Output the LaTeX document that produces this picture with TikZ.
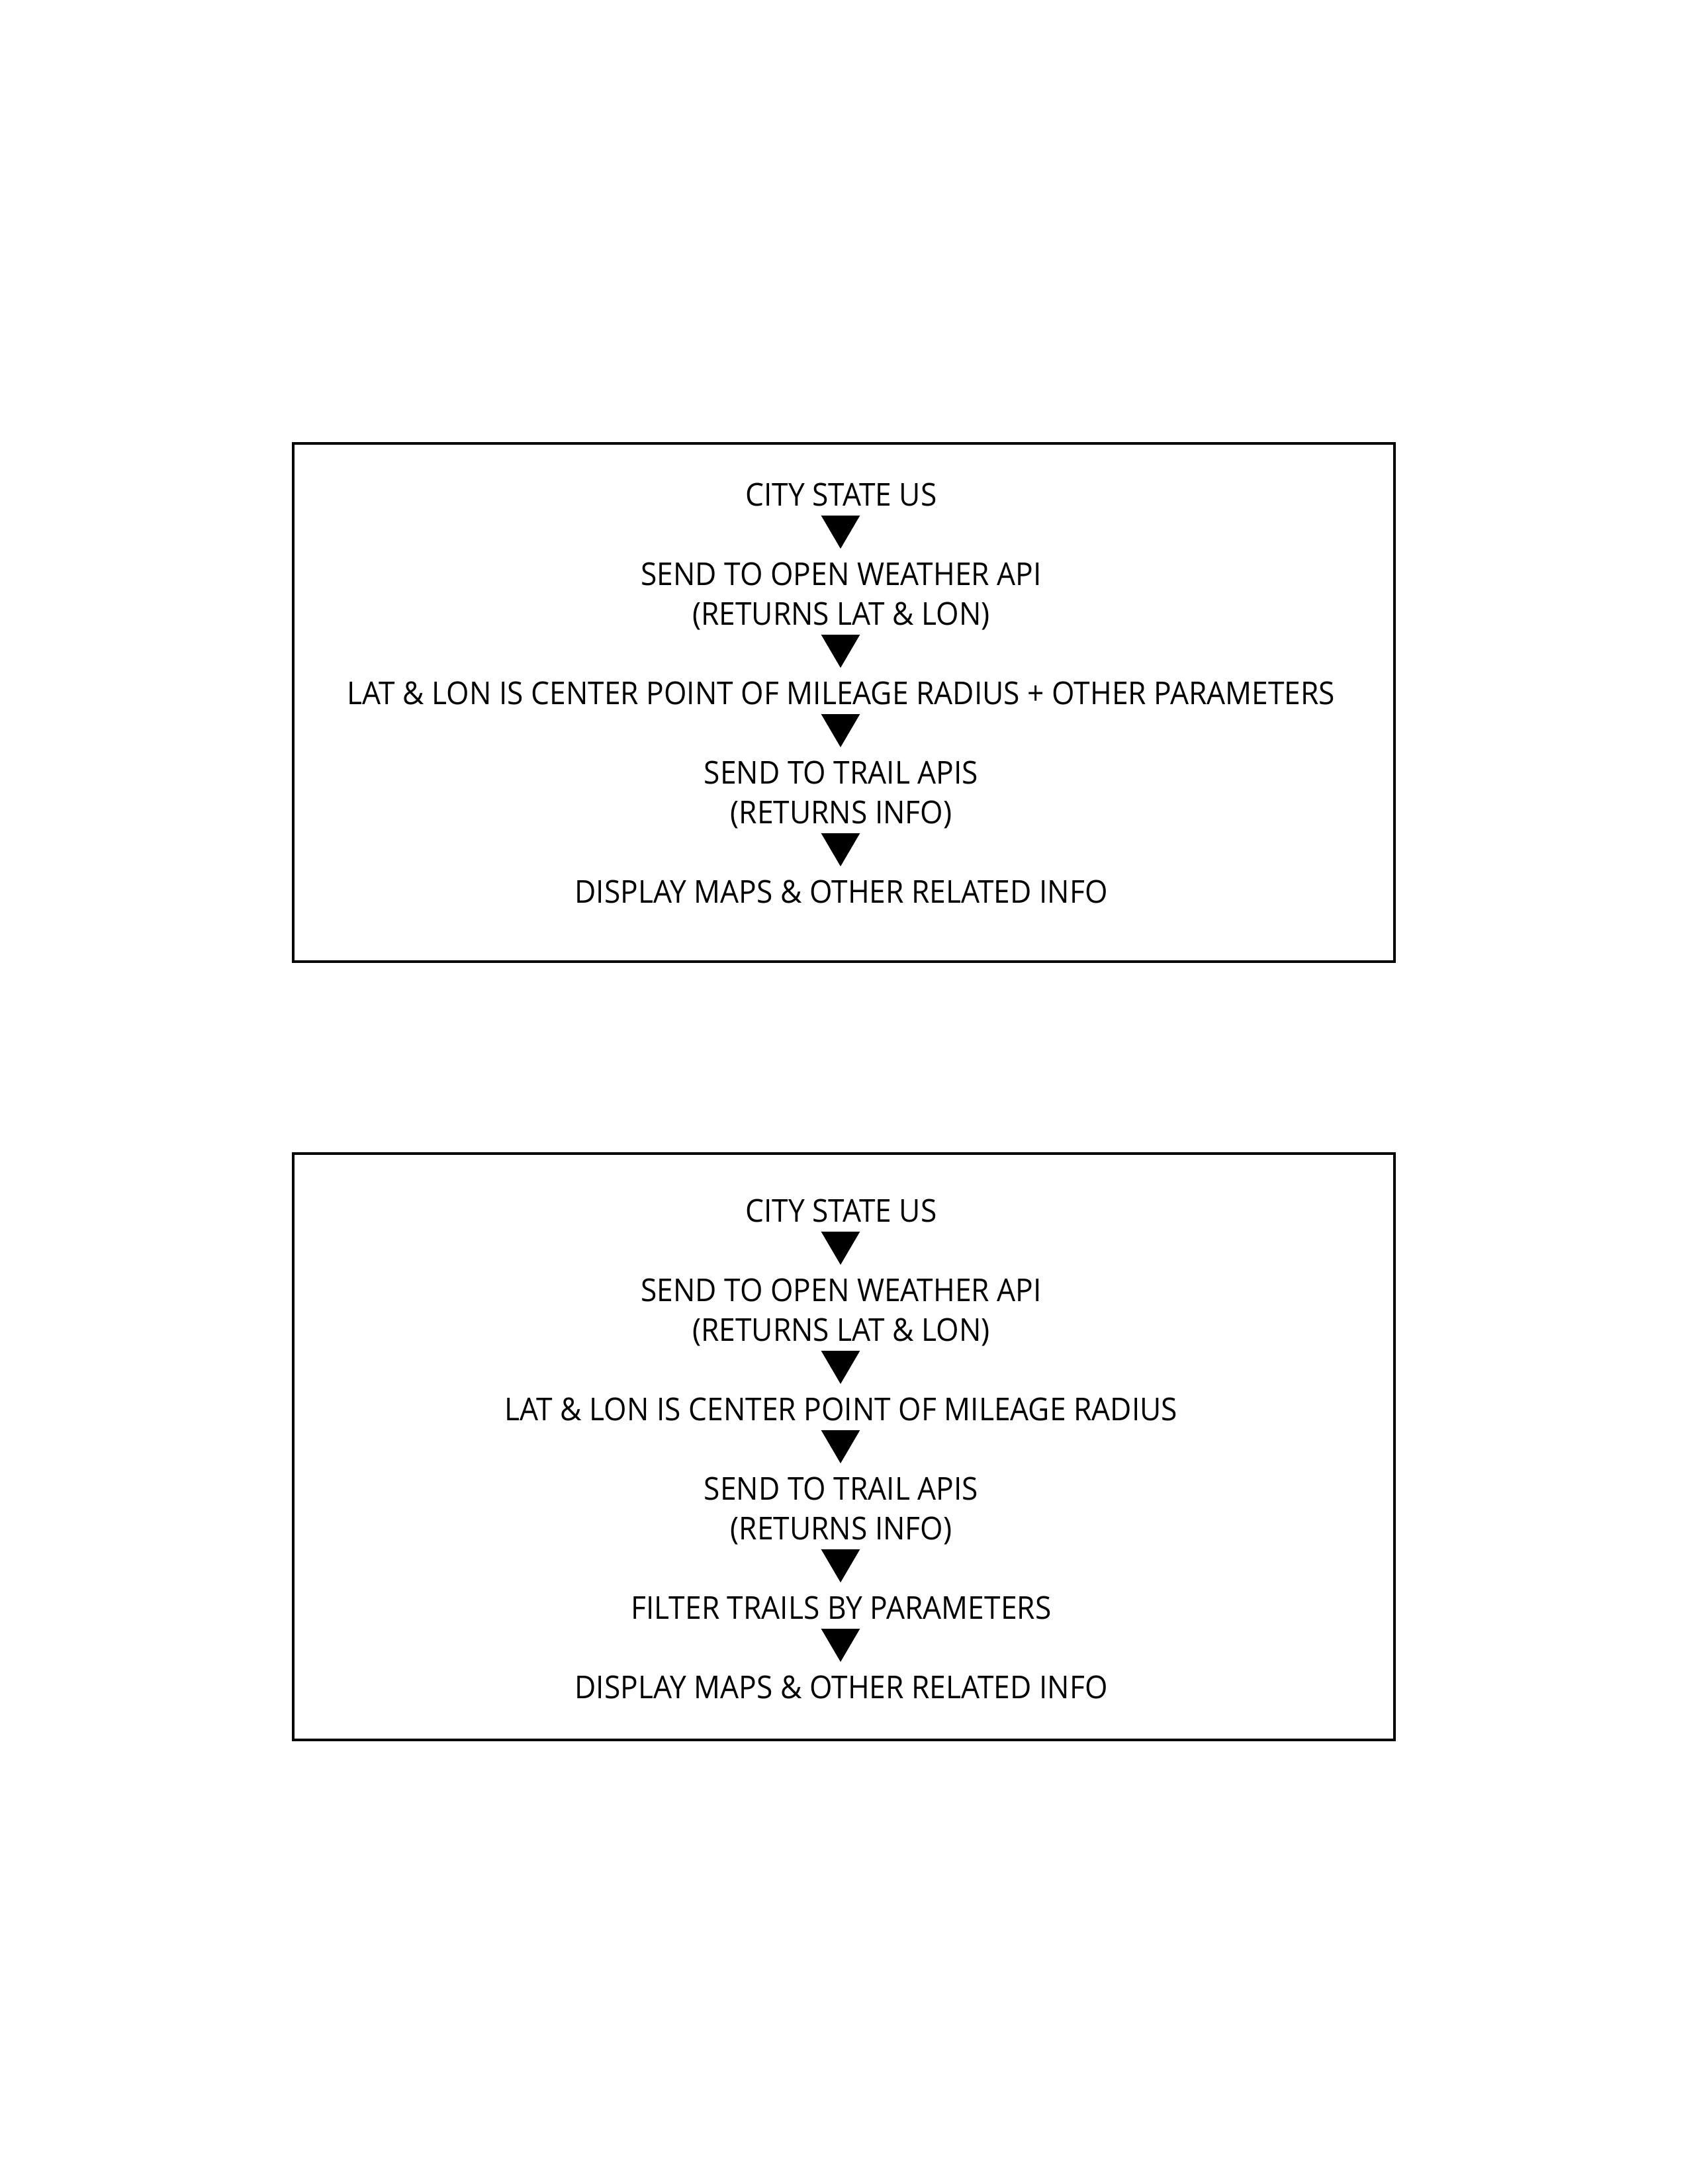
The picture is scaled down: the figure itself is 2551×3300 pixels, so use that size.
\documentclass[tikz,border=0pt]{standalone}
\usepackage{fontspec}
\setmainfont{Open Sans}
\usepackage{graphicx}
\newlength\longw
\begin{document}
\settowidth\longw{\fontsize{11.43bp}{13.7bp}\selectfont LAT \& LON IS CENTER POINT OF MILEAGE RADIUS + OTHER PARAMETERS}
\pgfmathsetmacro\xf{359.43/\longw}
\begin{tikzpicture}[x=0.24bp,y=-0.24bp,
  txt/.style={anchor=base, inner sep=0pt, font=\fontsize{11.43bp}{13.7bp}\selectfont},
  frame/.style={draw=black, line width=0.96bp},
  tri/.style={fill=black}]
\useasboundingbox (0,0) rectangle (2551,3300);
\newcommand\tline[3]{\node[txt] (#1) at (1271,#2) {\scalebox{\xf}[1]{#3}};}
\newcommand\tarrow[2]{\coordinate (#1) at (1270,#2);
  \fill[tri] (#1) ++(-29.3,-45) -- ++(58.6,0) -- ++(-29.3,50) -- cycle;}
% box 1
\draw[frame] (443,670) rectangle (2107,1453);
\tline{a1}{764}{CITY STATE US}
\tarrow{ta1}{824}
\tline{a2}{884}{SEND TO OPEN WEATHER API}
\tline{a3}{944}{(RETURNS LAT \& LON)}
\tarrow{ta2}{1004}
\tline{a4}{1064}{LAT \& LON IS CENTER POINT OF MILEAGE RADIUS + OTHER PARAMETERS}
\tarrow{ta3}{1124}
\tline{a5}{1184}{SEND TO TRAIL APIS}
\tline{a6}{1244}{(RETURNS INFO)}
\tarrow{ta4}{1304}
\tline{a7}{1364}{DISPLAY MAPS \& OTHER RELATED INFO}
% box 2
\draw[frame] (443,1743) rectangle (2107,2629);
\tline{b1}{1846}{CITY STATE US}
\tarrow{tb1}{1906}
\tline{b2}{1966}{SEND TO OPEN WEATHER API}
\tline{b3}{2026}{(RETURNS LAT \& LON)}
\tarrow{tb2}{2086}
\tline{b4}{2146}{LAT \& LON IS CENTER POINT OF MILEAGE RADIUS}
\tarrow{tb3}{2206}
\tline{b5}{2266}{SEND TO TRAIL APIS}
\tline{b6}{2326}{(RETURNS INFO)}
\tarrow{tb4}{2386}
\tline{b7}{2446}{FILTER TRAILS BY PARAMETERS}
\tarrow{tb5}{2506}
\tline{b8}{2566}{DISPLAY MAPS \& OTHER RELATED INFO}
\end{tikzpicture}
\end{document}
